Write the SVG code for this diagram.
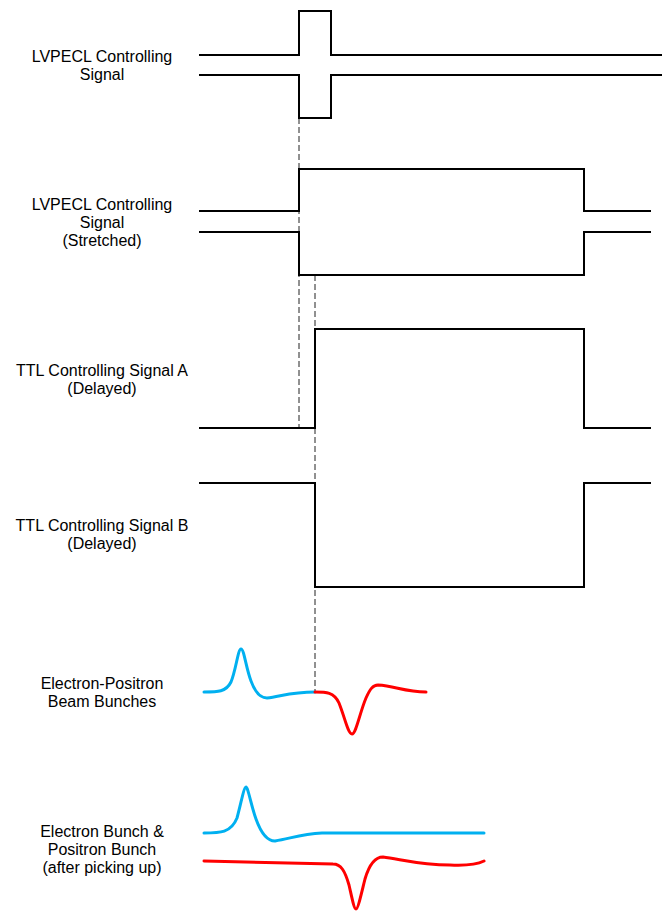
<svg xmlns="http://www.w3.org/2000/svg" width="662" height="911" viewBox="0 0 662 911">
<style>
.lbl{font-family:"Liberation Sans",Arial,sans-serif;font-size:16px;fill:#000;text-anchor:middle}
.sig{fill:none;stroke:#000;stroke-width:2;stroke-linejoin:miter}
.dash{fill:none;stroke:#222;stroke-width:1;stroke-dasharray:6,3}
.blue{fill:none;stroke:#00B0F0;stroke-width:3;stroke-linecap:round;stroke-linejoin:round}
.red{fill:none;stroke:#FF0000;stroke-width:3;stroke-linecap:round;stroke-linejoin:round}
</style>
<rect width="662" height="911" fill="#fff"/>
<g id="connectors">
<line class="dash" x1="299" y1="118" x2="299" y2="428"/>
<line class="dash" x1="315" y1="275" x2="315" y2="692"/>
</g>
<g id="lvpecl">
<text class="lbl" x="102" y="62">LVPECL Controlling</text>
<text class="lbl" x="102" y="80">Signal</text>
<path class="sig" d="M199,55 H299 V11 H331 V55 H662"/>
<path class="sig" d="M199,75 H299 V118 H331 V75 H662"/>
</g>
<g id="lvpecl-stretched">
<text class="lbl" x="102" y="210">LVPECL Controlling</text>
<text class="lbl" x="102" y="228">Signal</text>
<text class="lbl" x="102" y="246">(Stretched)</text>
<path class="sig" d="M199,211 H299 V169 H584 V211 H651"/>
<path class="sig" d="M199,232 H299 V275 H584 V232 H651"/>
</g>
<g id="ttl-a">
<text class="lbl" x="102" y="376">TTL Controlling Signal A</text>
<text class="lbl" x="102" y="394">(Delayed)</text>
<path class="sig" d="M199,428 H315 V329 H584 V428 H651"/>
</g>
<g id="ttl-b">
<text class="lbl" x="102" y="531">TTL Controlling Signal B</text>
<text class="lbl" x="102" y="549">(Delayed)</text>
<path class="sig" d="M199,483 H315 V587 H584 V483 H651"/>
</g>
<g id="beam-bunches">
<text class="lbl" x="102" y="689">Electron-Positron</text>
<text class="lbl" x="102" y="707">Beam Bunches</text>
<path class="blue" d="M204,692 C218,692 226,692 231,682 C236,670 238,649 241,649 C244,649 246,668 251,681 C255,692 260,698 267,698 C282,696 292,692 315,692"/>
<path class="red" d="M315,692 C326,692 334,692 339,703 C345,718 348,734 352,734 C356,734 360,712 366,698 C370,689 373,685 378,685 C395,686 405,692 426,692"/>
</g>
<g id="picked-up">
<text class="lbl" x="102" y="837">Electron Bunch &amp;</text>
<text class="lbl" x="102" y="855">Positron Bunch</text>
<text class="lbl" x="102" y="873">(after picking up)</text>
<path class="blue" d="M204,833 C220,833 231,833 237,818 C241,803 244,787 246,787 C248,787 251,805 256,819 C261,833 267,841 275,841 C292,838 302,834 322,833 L484,833"/>
<path class="red" d="M204,861 L333,864 C341,864 345,871 349,885 C352,898 354,909 356,909 C358,909 361,895 365,879 C370,862 376,857 383,857 C400,859 420,865 450,865 C470,866 478,864 484,861"/>
</g>
</svg>
